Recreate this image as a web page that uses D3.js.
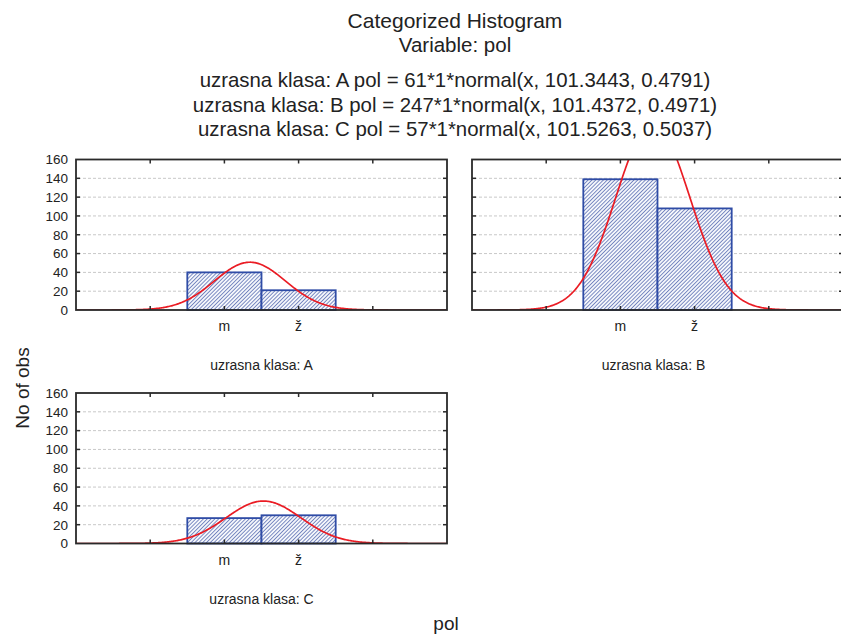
<!DOCTYPE html>
<html>
<head>
<meta charset="utf-8">
<script src="https://cdn.jsdelivr.net/npm/d3@7"></script>
<style>
  body { margin: 0; background: #fff; }
  svg { display: block; }
  text { font-family: "Liberation Sans", Arial, sans-serif; fill: #222; }
</style>
</head>
<body>
<svg id="chart" width="841" height="635"></svg>
<script>
// ---- data ----
const categories = ["m", "ž"];
const categoryValues = [101, 102];
const groups = ["A", "B", "C"];
const countsA = [40, 21];
const countsB = [139, 108];
const countsC = [27, 30];
const fitN = [61, 247, 57];
const fitMean = [101.3443, 101.4372, 101.5263];
const fitSd = [0.4791, 0.4971, 0.5037];
const yTicks = [0, 20, 40, 60, 80, 100, 120, 140, 160];
const xTicks = [100, 101, 102, 103];
const xDomain = [99, 104];
const yDomain = [0, 160];
const titleLines = ["Categorized Histogram", "Variable: pol"];
const fitLines = groups.map((g, i) =>
  `uzrasna klasa: ${g} pol = ${fitN[i]}*1*normal(x, ${fitMean[i].toFixed(4)}, ${fitSd[i].toFixed(4)})`);

const counts = [countsA, countsB, countsC];

const svg = d3.select("#chart");
const W = 841;

// hatch pattern
const defs = svg.append("defs");
const pat = defs.append("pattern")
  .attr("id", "hatch").attr("patternUnits", "userSpaceOnUse")
  .attr("width", 2.7).attr("height", 2.7)
  .attr("patternTransform", "rotate(45)");
pat.append("rect").attr("width", 2.7).attr("height", 2.7).attr("fill", "#f4f6fb");
pat.append("line").attr("x1", 0).attr("y1", 0).attr("x2", 0).attr("y2", 2.7)
  .attr("stroke", "#3f56a6").attr("stroke-width", 1.3);

// titles
svg.append("text").attr("x", 455).attr("y", 28).attr("text-anchor", "middle")
  .style("font-size", "21px").text(titleLines[0]);
svg.append("text").attr("x", 455).attr("y", 52).attr("text-anchor", "middle")
  .style("font-size", "20.5px").text(titleLines[1]);
fitLines.forEach((t, i) => {
  svg.append("text").attr("x", 455).attr("y", 87 + i * 24.6).attr("text-anchor", "middle")
    .style("font-size", "20.4px").text(t);
});

// axis titles
svg.append("text").attr("transform", "translate(29,388) rotate(-90)")
  .attr("text-anchor", "middle").style("font-size", "19px").text("No of obs");
svg.append("text").attr("x", 446).attr("y", 630).attr("text-anchor", "middle")
  .style("font-size", "19px").text("pol");

const panels = [
  { x0: 76, y0: 159.5, w: 371, h: 150.5 },
  { x0: 472, y0: 159.5, w: 371, h: 150.5 },
  { x0: 76, y0: 393, w: 371, h: 150.5 }
];

panels.forEach((p, gi) => {
  const g = svg.append("g");
  const x = d3.scaleLinear().domain(xDomain).range([p.x0, p.x0 + p.w]);
  const y = d3.scaleLinear().domain(yDomain).range([p.y0 + p.h, p.y0]);
  const clipId = "clip" + gi;
  defs.append("clipPath").attr("id", clipId).append("rect")
    .attr("x", p.x0).attr("y", p.y0).attr("width", p.w).attr("height", p.h);

  // gridlines
  g.append("g").selectAll("line").data(yTicks.filter(v => v > 0 && v < 160)).join("line")
    .attr("x1", p.x0 + 2).attr("x2", p.x0 + p.w - 2)
    .attr("y1", d => y(d)).attr("y2", d => y(d))
    .attr("stroke", "#c8c8c8").attr("stroke-width", 1).attr("stroke-dasharray", "3,2");

  // bars
  g.append("g").selectAll("rect").data(counts[gi]).join("rect")
    .attr("x", (d, i) => x(categoryValues[i] - 0.5))
    .attr("width", (d, i) => x(categoryValues[i] + 0.5) - x(categoryValues[i] - 0.5))
    .attr("y", d => y(d))
    .attr("height", d => y(0) - y(d))
    .attr("fill", "url(#hatch)")
    .attr("stroke", "#2f4ca6").attr("stroke-width", 1.8);

  // fitted normal curve
  const n = fitN[gi], mu = fitMean[gi], sd = fitSd[gi];
  const pts = d3.range(0, 401).map(k => {
    const xv = xDomain[0] + (xDomain[1] - xDomain[0]) * k / 400;
    const yv = n * Math.exp(-0.5 * ((xv - mu) / sd) ** 2) / (sd * Math.sqrt(2 * Math.PI));
    return [xv, yv];
  });
  g.append("path").datum(pts)
    .attr("clip-path", `url(#${clipId})`)
    .attr("d", d3.line().x(d => x(d[0])).y(d => y(d[1])))
    .attr("fill", "none").attr("stroke", "#ea1c24").attr("stroke-width", 1.7);

  // frame
  g.append("rect").attr("x", p.x0).attr("y", p.y0).attr("width", p.w).attr("height", p.h)
    .attr("fill", "none").attr("stroke", "#2a2a2a").attr("stroke-width", 1.8);

  // inner ticks
  const tk = 4;
  xTicks.forEach(v => {
    g.append("line").attr("x1", x(v)).attr("x2", x(v)).attr("y1", p.y0).attr("y2", p.y0 + tk)
      .attr("stroke", "#2a2a2a").attr("stroke-width", 1.5);
    g.append("line").attr("x1", x(v)).attr("x2", x(v)).attr("y1", p.y0 + p.h).attr("y2", p.y0 + p.h - tk)
      .attr("stroke", "#2a2a2a").attr("stroke-width", 1.5);
  });
  yTicks.filter(v => v > 0 && v < 160).forEach(v => {
    g.append("line").attr("x1", p.x0).attr("x2", p.x0 + tk).attr("y1", y(v)).attr("y2", y(v))
      .attr("stroke", "#2a2a2a").attr("stroke-width", 1.5);
    g.append("line").attr("x1", p.x0 + p.w).attr("x2", p.x0 + p.w - tk).attr("y1", y(v)).attr("y2", y(v))
      .attr("stroke", "#2a2a2a").attr("stroke-width", 1.5);
  });

  // y tick labels only on left column
  if (p.x0 < 100) {
    g.append("g").selectAll("text").data(yTicks).join("text")
      .attr("x", p.x0 - 8).attr("y", d => y(d)).attr("dy", "0.36em")
      .attr("text-anchor", "end").style("font-size", "13.5px").text(d => d);
  }

  // category labels
  g.append("g").selectAll("text").data(categories).join("text")
    .attr("x", (d, i) => x(categoryValues[i])).attr("y", p.y0 + p.h + 21)
    .attr("text-anchor", "middle").style("font-size", "14px").text(d => d);

  // panel label
  g.append("text").attr("x", p.x0 + Math.min(p.w, W - p.x0) / 2 + (gi === 1 ? -3 : 0))
    .attr("y", p.y0 + p.h + 60)
    .attr("text-anchor", "middle").style("font-size", "14px")
    .text("uzrasna klasa: " + groups[gi]);
});
</script>
</body>
</html>
